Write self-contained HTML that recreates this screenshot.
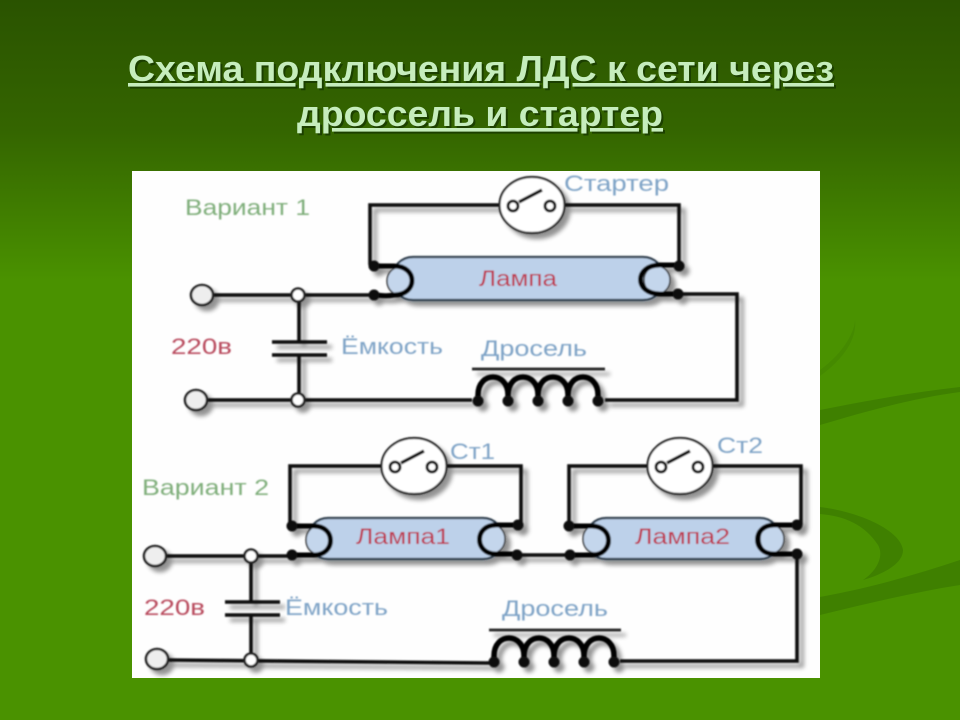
<!DOCTYPE html>
<html lang="ru"><head><meta charset="utf-8"><title>Схема подключения ЛДС</title>
<style>
html,body{margin:0;padding:0;width:960px;height:720px;overflow:hidden;background:#4a9200}
svg{display:block}
text{font-family:"Liberation Sans",sans-serif}
.w{fill:none;stroke:#0c0c0c;stroke-width:3.6;stroke-linejoin:miter}
.c{fill:none;stroke:#050505;stroke-width:5;stroke-linecap:round}
.tt{font-size:36px;font-weight:bold;fill:#c6edbd;text-anchor:start;text-decoration:underline}
.ts{fill:#183a00;opacity:.85}
.g{fill:#7fae7a;font-size:22px}.b{fill:#7ea3c6;font-size:22px}.r{fill:#b8485c;font-size:22px}.l{fill:#bd3048;font-size:22px}
</style></head><body>
<svg width="960" height="720" viewBox="0 0 960 720" xmlns="http://www.w3.org/2000/svg">
<defs>
<linearGradient id="bg" x1="0" y1="0" x2="0" y2="1"><stop offset="0" stop-color="#2a5300"/><stop offset=".18" stop-color="#346500"/><stop offset=".39" stop-color="#4a9200"/><stop offset="1" stop-color="#4a9200"/></linearGradient>
<filter id="sh" x="-5%" y="-5%" width="110%" height="110%"><feGaussianBlur in="SourceAlpha" stdDeviation="2.2"/><feOffset dx="5" dy="5"/><feComponentTransfer><feFuncA type="linear" slope=".42"/></feComponentTransfer><feMerge><feMergeNode/><feMergeNode in="SourceGraphic"/></feMerge></filter>
<filter id="soft"><feGaussianBlur stdDeviation=".7"/></filter>
<g id="sw"><ellipse cx="0" cy="0" rx="32.5" ry="28" fill="#fff" stroke="#222" stroke-width="2.2"/><circle cx="-19" cy="1" r="5" fill="#fff" stroke="#111" stroke-width="3"/><circle cx="18" cy="1" r="5" fill="#fff" stroke="#111" stroke-width="3"/><path d="M-13-3L10-15" stroke="#111" stroke-width="3.4"/></g>
<g id="coil"><path class="c" style="stroke-width:5.5" d="M0 0V-6C0-30 30-30 30-6V0M30-6C30-30 60-30 60-6V0M60-6C60-30 90-30 90-6V0M90-6C90-30 120-30 120-6V0"/><g fill="#0a0a0a"><circle cx="0" cy="0" r="5.5"/><circle cx="30" cy="0" r="5.5"/><circle cx="60" cy="0" r="5.5"/><circle cx="90" cy="0" r="5.5"/><circle cx="120" cy="0" r="5.5"/></g></g>
</defs>
<rect width="960" height="720" fill="url(#bg)"/>
<g fill="#3f8000">
<path d="M820 410C870 400 915 392 960 387V392C915 398 870 410 820 425Z"/>
<path d="M820 597C870 588 915 575 960 560V585C915 592 870 603 820 615Z"/>
<path d="M820 507C860 512 900 530 903 550C903 565 880 575 863 580C878 570 884 555 878 545C865 525 845 516 820 514Z"/>
<path d="M820 370C845 352 855 330 855 320C857 338 845 358 820 376Z" opacity=".4"/>
</g>
<text class="tt ts" x="130" y="83" textLength="706" lengthAdjust="spacingAndGlyphs">Схема подключения ЛДС к сети через</text>
<text class="tt ts" x="299" y="128" textLength="366" lengthAdjust="spacingAndGlyphs">дроссель и стартер</text>
<text class="tt" x="128" y="81" textLength="706" lengthAdjust="spacingAndGlyphs">Схема подключения ЛДС к сети через</text>
<text class="tt" x="297" y="126" textLength="366" lengthAdjust="spacingAndGlyphs">дроссель и стартер</text>
<rect x="132" y="171" width="688" height="507" fill="#fefefe"/>
<g filter="url(#soft)">
<g filter="url(#sh)">
<!-- variant 1 -->
<rect x="392" y="257" width="272" height="43" rx="21" fill="#bdd1ea" stroke="#2b3a4a" stroke-width="2.2"/>
<ellipse cx="400" cy="281" rx="13" ry="14" fill="#c4d6ec" stroke="#333" stroke-width="1.5"/>
<ellipse cx="657" cy="280" rx="13" ry="14" fill="#c4d6ec" stroke="#333" stroke-width="1.5"/>
<path class="w" d="M501 205H370V265M565 205H679V265"/>
<path class="w" d="M213 295H372M207 400H472M299 295V342M299 355V400M272 342H327M272 355H327M680 294H737V400H605"/>
<path class="c" d="M374 266H394C418 266 418 295 394 295C385 297 380 295 374 295"/>
<path class="c" d="M680 265H660C634 265 634 294 660 294H680"/>
<g fill="#0a0a0a"><circle cx="374" cy="266" r="5.5"/><circle cx="374" cy="295" r="5.5"/><circle cx="679" cy="266" r="5.5"/><circle cx="678" cy="294" r="5.5"/></g>
<use href="#sw" x="532" y="205"/>
<ellipse cx="202" cy="295" rx="11" ry="10" fill="#eee" stroke="#222" stroke-width="2.6"/>
<ellipse cx="196" cy="400" rx="11" ry="10" fill="#eee" stroke="#222" stroke-width="2.6"/>
<circle cx="298" cy="295" r="6.5" fill="#fff" stroke="#222" stroke-width="2.6"/><circle cx="298" cy="400" r="6.5" fill="#fff" stroke="#222" stroke-width="2.6"/>
<path d="M472 369H605" stroke="#222" stroke-width="2.8"/>
<use href="#coil" x="478" y="401"/>
<!-- variant 2 -->
<rect x="308" y="518" width="195" height="41" rx="20" fill="#bdd1ea" stroke="#2b3a4a" stroke-width="2.2"/>
<rect x="586" y="518" width="194" height="41" rx="20" fill="#bdd1ea" stroke="#2b3a4a" stroke-width="2.2"/>
<ellipse cx="318" cy="540" rx="12" ry="14" fill="#c4d6ec" stroke="#333" stroke-width="1.5"/>
<ellipse cx="493" cy="539" rx="12" ry="14" fill="#c4d6ec" stroke="#333" stroke-width="1.5"/>
<ellipse cx="595" cy="539" rx="12" ry="14" fill="#c4d6ec" stroke="#333" stroke-width="1.5"/>
<ellipse cx="772" cy="539" rx="12" ry="14" fill="#c4d6ec" stroke="#333" stroke-width="1.5"/>
<path class="w" d="M383 466H290V526M446 466H521V525M648 466H569V525M712 466H801V525"/>
<path class="w" d="M166 556H292M168 660 490 663M251 556V602M251 615V660M225 602H280M225 615H280M517 555H570M797 554V661H620"/>
<path class="c" d="M292 526H314C336 526 336 555 314 555H292"/>
<path class="c" d="M518 525H496C474 525 474 554 496 554H517"/>
<path class="c" d="M569 526H592C614 526 614 555 592 555H570"/>
<path class="c" d="M797 525H774C752 525 752 554 774 554H797"/>
<g fill="#0a0a0a"><circle cx="292" cy="526" r="5.5"/><circle cx="292" cy="555" r="5.5"/><circle cx="518" cy="525" r="5.5"/><circle cx="517" cy="555" r="5.5"/><circle cx="569" cy="526" r="5.5"/><circle cx="570" cy="555" r="5.5"/><circle cx="797" cy="525" r="5.5"/><circle cx="797" cy="554" r="5.5"/></g>
<use href="#sw" x="414" y="466"/><use href="#sw" x="680" y="466"/>
<ellipse cx="155" cy="556" rx="11" ry="10" fill="#eee" stroke="#222" stroke-width="2.6"/>
<ellipse cx="157" cy="659" rx="11" ry="10" fill="#eee" stroke="#222" stroke-width="2.6"/>
<circle cx="251" cy="556" r="6.5" fill="#fff" stroke="#222" stroke-width="2.6"/><circle cx="251" cy="660" r="6.5" fill="#fff" stroke="#222" stroke-width="2.6"/>
<path d="M489 630H621" stroke="#222" stroke-width="2.8"/>
<use href="#coil" x="494" y="662"/>
</g>
<g lengthAdjust="spacingAndGlyphs">
<text class="g" x="185" y="215" textLength="125" lengthAdjust="spacingAndGlyphs">Вариант 1</text>
<text class="g" x="142" y="495" textLength="127" lengthAdjust="spacingAndGlyphs">Вариант 2</text>
<text class="r" x="171" y="354" textLength="61" lengthAdjust="spacingAndGlyphs">220в</text>
<text class="r" x="144" y="615" textLength="61" lengthAdjust="spacingAndGlyphs">220в</text>
<text class="b" x="341" y="354" textLength="102" lengthAdjust="spacingAndGlyphs">Ёмкость</text>
<text class="b" x="285" y="615" textLength="103" lengthAdjust="spacingAndGlyphs">Ёмкость</text>
<text class="b" x="564" y="191" textLength="105" lengthAdjust="spacingAndGlyphs">Стартер</text>
<text class="b" x="481" y="356" textLength="106" lengthAdjust="spacingAndGlyphs">Дросель</text>
<text class="b" x="502" y="616" textLength="106" lengthAdjust="spacingAndGlyphs">Дросель</text>
<text class="b" x="450" y="459" textLength="45" lengthAdjust="spacingAndGlyphs">Ст1</text>
<text class="b" x="717" y="453" textLength="46" lengthAdjust="spacingAndGlyphs">Ст2</text>
<text class="l" x="479" y="286" textLength="78" lengthAdjust="spacingAndGlyphs">Лампа</text>
<text class="l" x="356" y="544" textLength="94" lengthAdjust="spacingAndGlyphs">Лампа1</text>
<text class="l" x="635" y="544" textLength="95" lengthAdjust="spacingAndGlyphs">Лампа2</text>
</g>
</g>
</svg>
</body></html>
